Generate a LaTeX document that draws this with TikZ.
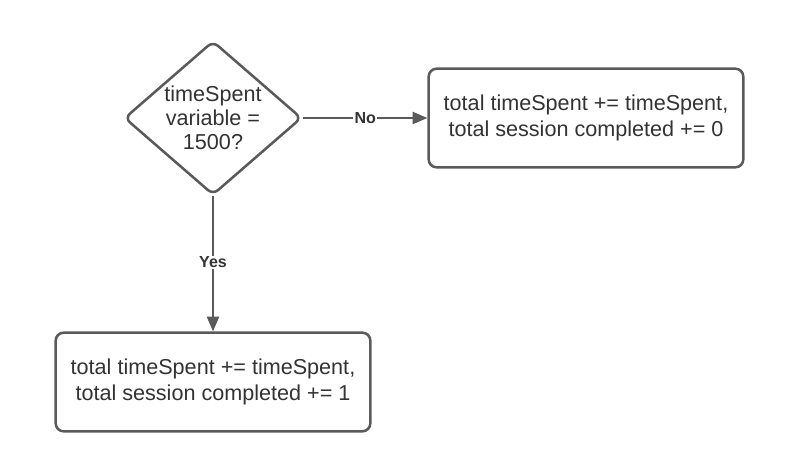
\documentclass[tikz,border=0pt]{standalone}
\usepackage{fontspec}
\setmainfont{Liberation Sans}
\usetikzlibrary{shapes.geometric,arrows.meta}
\definecolor{linegray}{HTML}{5A5A5A}
\definecolor{textgray}{HTML}{333333}
\begin{document}
\begin{tikzpicture}[x=0.75pt,y=-0.75pt,
  every node/.style={text=textgray},
  procbox/.style={draw=linegray,line width=1.9pt,rounded corners=6pt,minimum width=236pt,minimum height=74pt,align=center,font=\fontsize{16.2}{19.5}\selectfont,inner sep=0pt},
  decbox/.style={draw=linegray,line width=1.9pt,diamond,rounded corners=5pt,minimum width=133pt,minimum height=115.5pt,aspect=1.15,align=center,font=\fontsize{16.2}{18}\selectfont,inner sep=0pt},
  conn/.style={draw=linegray,line width=1.5pt,-{Triangle[length=11pt,width=9pt]}},
  lbl/.style={font=\fontsize{12}{14}\bfseries\selectfont,fill=white,inner sep=1pt}]
\useasboundingbox[fill=white] (0,0) rectangle (800,472);
\node[decbox] (dec) at (213,118) {timeSpent\\variable =\\1500?};
\node[procbox] (no) at (586,118) {total timeSpent += timeSpent,\\total session completed += 0};
\node[procbox] (yes) at (213,382) {total timeSpent += timeSpent,\\total session completed += 1};
\draw[conn] (dec.east) -- node[lbl]{No} (no.west);
\draw[conn] (dec.south) -- node[lbl,pos=0.49]{Yes} (yes.north);
\end{tikzpicture}
\end{document}
